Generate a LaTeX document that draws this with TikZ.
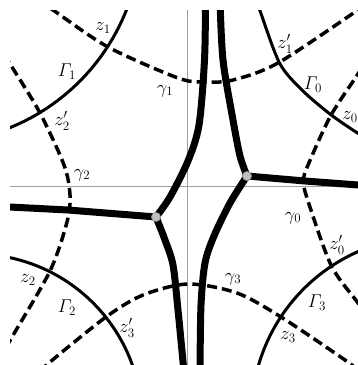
\documentclass[tikz,border=0pt]{standalone}
\usepackage{amsmath}
\usepackage{fix-cm}
\begin{document}
\begin{tikzpicture}
    [
        x=1pt, y=-1pt,
        axis/.style = {draw=gray!75, line width=0.7pt},
        geod/.style = {draw, line width=3pt},
        orbit/.style = {draw, line width=3.5pt, dash pattern=on 10pt off 5pt},
        track/.style = {draw, line width=7pt},
        vertex/.style = {circle, draw=gray!85, fill=gray!50, line width=0.8pt, inner sep=0pt, minimum size=9pt},
        lbl/.style = {font=\fontsize{18.5}{20}\selectfont, inner sep=0pt},
    ]
    \useasboundingbox (0,0) rectangle (358,365);

    % ends and corners
    \coordinate (axW) at (10,186);
    \coordinate (axE) at (358,186);
    \coordinate (axN) at (187,10);
    \coordinate (axS) at (187,365);

    \coordinate (topL) at (205.5,0);
    \coordinate (topR) at (220,0);
    \coordinate (botL) at (184,372);
    \coordinate (botR) at (200,372);
    \coordinate (edgeW) at (0,206.5);
    \coordinate (edgeE) at (365,185.5);

    \node[vertex] (nL) at (156,217) {};
    \node[vertex] (nR) at (247,176) {};

    \begin{scope}
        \clip (10,10) rectangle (358,365);

        \draw[axis] (axW) -- (axE);
        \draw[axis] (axN) -- (axS);

        % Gamma arcs
        \draw[geod] (-69,-67) circle[radius=210];
        \draw[geod] plot[smooth] coordinates {(255,-2) (259.7,10) (279.7,63.3) (303,91) (331.3,115) (358,133.3) (368,138)};
        \draw[geod] (-25,421) circle[radius=167];
        \draw[geod] (430,415) circle[radius=178.5];

        % gamma arcs
        \draw[orbit] plot[smooth] coordinates {(38,0) (53,10) (108,47) (178,78) (205,82) (233,80) (278,63) (358,10) (373,0)};
        \draw[orbit] plot[smooth] coordinates {(4,54) (12,67) (40,113) (64,165) (70,195) (67,222) (50,271) (12,337) (4,351)};
        \draw[orbit] plot[smooth] coordinates {(362,68) (356,77) (330,117) (306,170) (304,183) (307,198) (331,265) (358,303) (366,316)};
        \draw[orbit] plot[smooth] coordinates {(40,372) (50,362) (106,317) (143,295) (188,284) (237,293) (281,317) (345,360) (355,368)};

        % thick lines
        \draw[track] plot[smooth] coordinates {(topL) (204.5,60) (199,125) (188,161) (170,197) (nL.center)};
        \draw[track] plot[smooth] coordinates {(nL.center) (165,240) (173,265) (178,310) (botL)};
        \draw[track] plot[smooth] coordinates {(topR) (223,60) (233,120) (240,156) (nR.center)};
        \draw[track] plot[smooth] coordinates {(nR.center) (230,203) (214,236) (205,263) (201,305) (botR)};
        \draw[track] (edgeW) -- (68,210) -- (nL.center);
        \draw[track] (nR.center) -- (305,181) -- (edgeE);
    \end{scope}

    \node[vertex] at (nL) {};
    \node[vertex] at (nR) {};

    % labels
    \node[lbl] (z1) at (103,28) {$z_1$};
    \node[lbl] (G1) at (67,72) {$\varGamma_1$};
    \node[lbl] (z2p) at (62,121) {$z_2'$};
    \node[lbl] (g1) at (165,91) {$\gamma_1$};
    \node[lbl] (g2) at (82,175) {$\gamma_2$};
    \node[lbl] (z1p) at (285,44) {$z_1'$};
    \node[lbl] (G0) at (313,85) {$\varGamma_0$};
    \node[lbl] (z0) at (350,117) {$z_0$};
    \node[lbl] (g0) at (293,218) {$\gamma_0$};
    \node[lbl] (z0p) at (337,245) {$z_0'$};
    \node[lbl] (G3) at (317,303) {$\varGamma_3$};
    \node[lbl] (z3) at (288,337) {$z_3$};
    \node[lbl] (g3) at (233,279) {$\gamma_3$};
    \node[lbl] (z3p) at (127,328) {$z_3'$};
    \node[lbl] (G2) at (67,308) {$\varGamma_2$};
    \node[lbl] (z2) at (28,280) {$z_2$};
\end{tikzpicture}
\end{document}
